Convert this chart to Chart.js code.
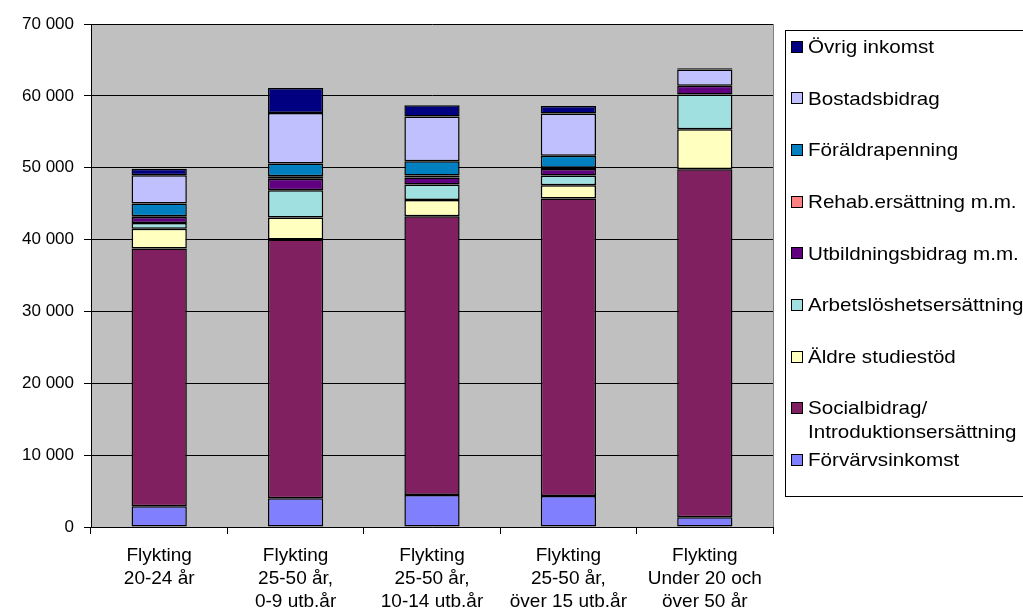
<!DOCTYPE html>
<html>
<head>
<meta charset="utf-8">
<script src="https://cdn.jsdelivr.net/npm/chart.js@4/dist/chart.umd.min.js"></script>
<style>
html,body{margin:0;padding:0;background:#fff;}
canvas{display:block;}
</style>
</head>
<body>
<canvas id="c" width="1023" height="614"></canvas>
<script>
// ---- data ----
const categories = [
  ["Flykting", "20-24 år"],
  ["Flykting", "25-50 år,", "0-9 utb.år"],
  ["Flykting", "25-50 år,", "10-14 utb.år"],
  ["Flykting", "25-50 år,", "över 15 utb.år"],
  ["Flykting", "Under 20 och", "över 50 år"]
];
const yTicks = [0, 10000, 20000, 30000, 40000, 50000, 60000, 70000];

// stacking order: bottom first
const seriesNames = [
  "Förvärvsinkomst",
  "Socialbidrag/\nIntroduktionsersättning",
  "Äldre studiestöd",
  "Arbetslöshetsersättning",
  "Utbildningsbidrag m.m.",
  "Rehab.ersättning m.m.",
  "Föräldrapenning",
  "Bostadsbidrag",
  "Övrig inkomst"
];
const forvarvsinkomst   = [2900, 4000, 4450, 4300, 1350];
const socialbidrag      = [35870, 36000, 38810, 41420, 48450];
const aldreStudiestod   = [2730, 3060, 2230, 1850, 5560];
const arbetsloshet      = [790, 3800, 2180, 1350, 4830];
const utbildningsbidrag = [860, 1600, 970, 900, 1200];
const rehab             = [100, 350, 280, 160, 0];
const foraldrapenning   = [1770, 1760, 1990, 1670, 0];
const bostadsbidrag     = [3930, 7060, 6220, 5900, 2280];
const ovrigInkomst      = [910, 3470, 1570, 1050, 180];

const seriesValues = [forvarvsinkomst, socialbidrag, aldreStudiestod, arbetsloshet,
  utbildningsbidrag, rehab, foraldrapenning, bostadsbidrag, ovrigInkomst];
const seriesColors = ["#8080FF", "#802060", "#FFFFC0", "#A0E0E0", "#600080",
  "#FF8080", "#0080C0", "#C0C0FF", "#000080"];

const FONT = '"Liberation Sans", Arial, sans-serif';
Chart.defaults.color = '#000';
Chart.defaults.font.family = FONT;

function fmt(v) {
  return String(v).replace(/\B(?=(\d{3})+(?!\d))/g, ' ');
}

const plotBg = {
  id: 'plotBg',
  beforeDraw(chart) {
    const a = chart.chartArea, ctx = chart.ctx;
    ctx.save();
    ctx.fillStyle = '#C0C0C0';
    ctx.fillRect(a.left, a.top, a.right - a.left, a.bottom - a.top);
    ctx.strokeStyle = '#808080';
    ctx.lineWidth = 1;
    ctx.beginPath();
    ctx.moveTo(Math.round(a.right) + 0.5, a.top);
    ctx.lineTo(Math.round(a.right) + 0.5, a.bottom);
    ctx.stroke();
    ctx.restore();
  }
};

const boxLegend = {
  id: 'boxLegend',
  afterDraw(chart) {
    const ctx = chart.ctx;
    ctx.save();
    ctx.fillStyle = '#fff';
    ctx.fillRect(785, 30, 260, 467);
    ctx.strokeStyle = '#000';
    ctx.lineWidth = 1;
    ctx.strokeRect(785.5, 30.5, 260, 466);
    ctx.font = '19px ' + FONT;
    ctx.textBaseline = 'middle';
    ctx.textAlign = 'left';
    const n = seriesNames.length;
    for (let i = 0; i < n; i++) {
      const si = n - 1 - i;
      const y = 46.7 + i * 51.65;
      ctx.fillStyle = seriesColors[si];
      ctx.fillRect(791, Math.round(y) - 6, 12, 12);
      ctx.strokeStyle = '#000';
      ctx.strokeRect(791.5, Math.round(y) - 5.5, 11, 11);
      ctx.fillStyle = '#000';
      const lines = seriesNames[si].split('\n');
      lines.forEach((t, k) => {
        ctx.save();
        ctx.translate(808, y + k * 23.7 + 1);
        ctx.scale(1.085, 1);
        ctx.fillText(t, 0, 0);
        ctx.restore();
      });
    }
    ctx.restore();
  }
};

new Chart(document.getElementById('c'), {
  type: 'bar',
  data: {
    labels: categories,
    datasets: seriesNames.map((name, i) => ({
      label: name.replace('\n', ' '),
      data: seriesValues[i],
      backgroundColor: seriesColors[i],
      borderColor: '#000',
      borderWidth: 1.5,
      borderSkipped: false,
      categoryPercentage: 1.0,
      barPercentage: 0.405
    }))
  },
  options: {
    responsive: false,
    animation: false,
    layout: { padding: { top: 24, right: 250, left: 0, bottom: 0 } },
    plugins: {
      legend: { display: false },
      tooltip: { enabled: false }
    },
    scales: {
      x: {
        stacked: true,
        grid: {
          display: true,
          offset: true,
          drawOnChartArea: false,
          drawTicks: true,
          tickLength: 7,
          color: '#000'
        },
        border: { display: true, color: '#000', width: 1 },
        ticks: {
          font: { size: 19, lineHeight: 1.21 },
          color: '#000',
          padding: 10,
          maxRotation: 0,
          autoSkip: false
        },
        afterFit(s) { s.height = 614 - 527; }
      },
      y: {
        stacked: true,
        min: 0,
        max: 70000,
        afterBuildTicks(s) { s.ticks = yTicks.map(v => ({ value: v })); },
        grid: {
          color: '#000',
          lineWidth: 1,
          drawTicks: true,
          tickLength: 7
        },
        border: { display: true, color: '#000', width: 1 },
        ticks: {
          font: { size: 17 },
          color: '#000',
          padding: 10,
          callback: v => fmt(v)
        },
        afterFit(s) { s.width = 91; }
      }
    }
  },
  plugins: [plotBg, boxLegend]
});
</script>
</body>
</html>
